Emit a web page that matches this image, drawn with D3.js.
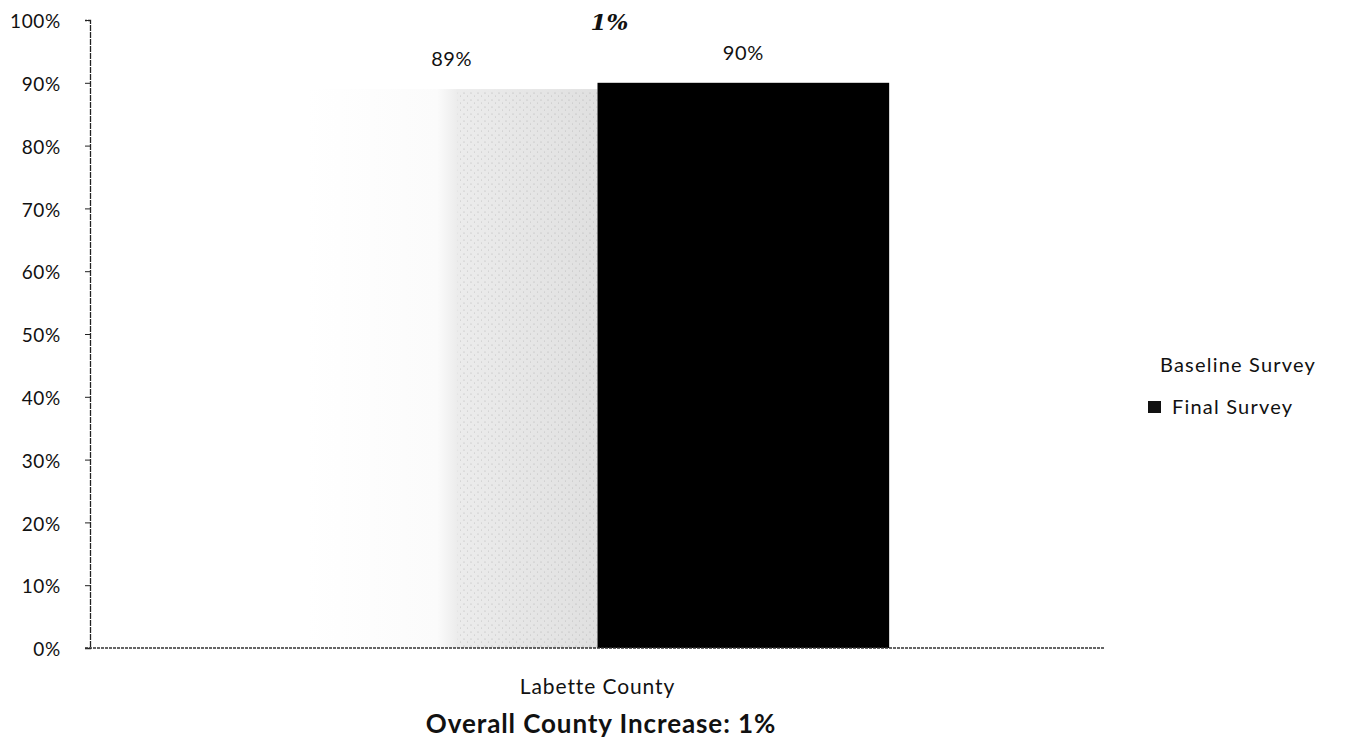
<!DOCTYPE html>
<html>
<head>
<meta charset="utf-8">
<script src="https://cdn.jsdelivr.net/npm/d3@7"></script>
<style>
  body { margin: 0; background: #fff; }
  text { font-family: Lato, "Open Sans", sans-serif; fill: #111; }
</style>
</head>
<body>
<svg id="chart" width="1345" height="742"></svg>
<script>
const categories = ['Labette County']
const seriesNames = ['Baseline Survey', 'Final Survey']
const baseline = [0.89]
const final = [0.90]
const yTicks = [0, 0.1, 0.2, 0.3, 0.4, 0.5, 0.6, 0.7, 0.8, 0.9, 1]
const increaseLabel = '1%'
const title = 'Overall County Increase: 1%'

const svg = d3.select('#chart')
const plotLeft = 90, plotRight = 1105, plotTop = 20, plotBottom = 648

const y = d3.scaleLinear().domain([0, 1]).range([plotBottom, plotTop])
const x0 = d3.scaleBand().domain(categories).range([plotLeft, plotRight]).paddingInner(0).paddingOuter(0.37)
const x1 = d3.scaleBand().domain(seriesNames).range([0, x0.bandwidth()])

// stippled fill for baseline, lighter on the left
const defs = svg.append('defs')
const grad = defs.append('linearGradient').attr('id', 'stipple')
  .attr('x1', 0).attr('x2', 1).attr('y1', 0).attr('y2', 0)
grad.append('stop').attr('offset', '0%').attr('stop-color', '#ffffff')
grad.append('stop').attr('offset', '45%').attr('stop-color', '#fbfbfb')
grad.append('stop').attr('offset', '52%').attr('stop-color', '#ececec')
grad.append('stop').attr('offset', '100%').attr('stop-color', '#e0e0e0')

const dots = defs.append('pattern').attr('id', 'dots')
  .attr('patternUnits', 'userSpaceOnUse').attr('width', 7).attr('height', 7)
dots.append('rect').attr('width', 7).attr('height', 7).attr('fill', 'none')
dots.append('circle').attr('cx', 2).attr('cy', 2).attr('r', 0.6).attr('fill', '#888')
dots.append('circle').attr('cx', 5.5).attr('cy', 5).attr('r', 0.5).attr('fill', '#999')

const rows = categories.map((c, i) => ({ cat: c, vals: [baseline[i], final[i]] }))

const g = svg.append('g')
rows.forEach(r => {
  r.vals.forEach((v, j) => {
    const bx = x0(r.cat) + x1(seriesNames[j])
    g.append('rect')
      .attr('x', bx).attr('y', y(v))
      .attr('width', x1.bandwidth()).attr('height', plotBottom - y(v))
      .attr('fill', j === 0 ? 'url(#stipple)' : '#000')
    if (j === 0) {
      // denser stipple on the right half of the baseline bar
      g.append('rect')
        .attr('x', bx + x1.bandwidth() * 0.52).attr('y', y(v) + 2)
        .attr('width', x1.bandwidth() * 0.48).attr('height', plotBottom - y(v) - 2)
        .attr('fill', 'url(#dots)').attr('opacity', 0.6)
    }
    g.append('text')
      .attr('x', bx + x1.bandwidth() / 2)
      .attr('y', y(v) - 23)
      .attr('text-anchor', 'middle')
      .attr('font-size', 20)
      .attr('letter-spacing', 0.6)
      .text(d3.format('.0%')(v))
  })
  svg.append('text')
    .attr('x', x0(r.cat) + x0.bandwidth() / 2 + 12)
    .attr('y', 30)
    .attr('text-anchor', 'middle')
    .attr('font-style', 'italic')
    .attr('font-weight', 'bold')
    .attr('font-size', 23)
    .style('font-family', '"DejaVu Serif", serif')
    .text(increaseLabel)
})

// y axis
const yAxis = svg.append('g')
  .attr('transform', `translate(${plotLeft},0)`)
  .call(d3.axisLeft(y).tickValues(yTicks).tickFormat(d3.format('.0%')).tickSize(5).tickPadding(24))
yAxis.select('.domain').attr('stroke', '#222').attr('stroke-width', 1.3).attr('stroke-dasharray', '6,1')
yAxis.selectAll('.tick line').attr('stroke', '#222')
yAxis.selectAll('.tick text').attr('font-size', 19).attr('fill', '#111').attr('letter-spacing', 0.7)
  .attr('dy', '0.4em')
  .style('font-family', 'Lato, sans-serif')

// x axis
const xAxis = svg.append('g')
  .attr('transform', `translate(0,${plotBottom})`)
  .call(d3.axisBottom(x0).tickSize(0).tickPadding(0))
xAxis.select('.domain').attr('stroke', '#333').attr('stroke-width', 1.3).attr('stroke-dasharray', '3,1')
  .attr('d', `M${plotLeft - 5},0H${plotRight}`)
xAxis.selectAll('.tick text').attr('dy', 0).attr('y', 46).attr('font-size', 21).attr('fill', '#111')
  .attr('letter-spacing', 0.9)
  .style('font-family', 'Lato, sans-serif')

svg.append('text')
  .attr('x', 601).attr('y', 733)
  .attr('text-anchor', 'middle')
  .attr('font-size', 26).attr('font-weight', 'bold').attr('letter-spacing', 0.9)
  .text(title)

// legend
const legend = svg.append('g').attr('transform', 'translate(1148,365)')
seriesNames.forEach((s, i) => {
  const row = legend.append('g').attr('transform', `translate(0,${i * 42})`)
  row.append('rect').attr('x', 0).attr('y', -6).attr('width', 13).attr('height', 12)
    .attr('fill', i === 0 ? '#fff' : '#111')
  row.append('text').attr('x', i === 0 ? 12 : 24).attr('y', 7).attr('font-size', 20)
    .attr('letter-spacing', 1.2).text(s)
})
</script>
</body>
</html>
